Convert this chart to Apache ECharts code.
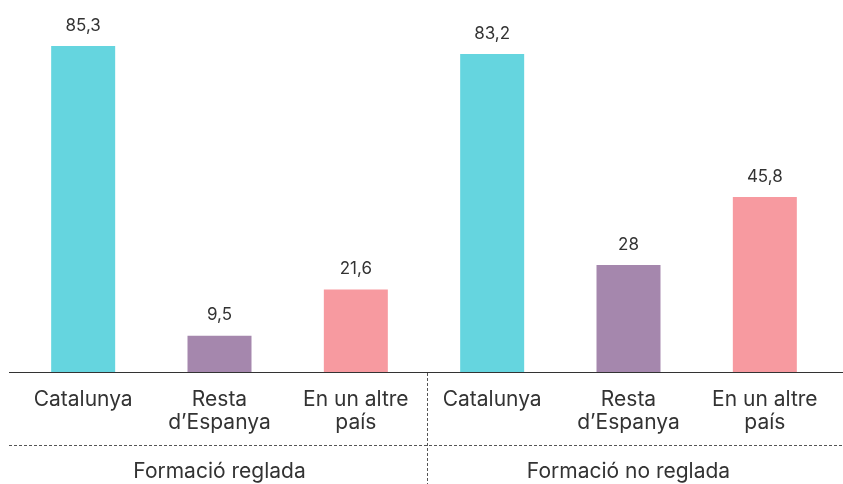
<!DOCTYPE html>
<html>
<head>
<meta charset="utf-8">
<script src="https://cdn.jsdelivr.net/npm/echarts@6/dist/echarts.min.js"></script>
<style>
  html, body { margin: 0; padding: 0; background: #fff; }
  #chart { width: 843px; height: 484px; }
</style>
</head>
<body>
<div id="chart"></div>
<script>
// categories (two groups of three)
const categories = ['Catalunya', 'Resta\nd\u2019Espanya', 'En un altre\npaís', 'Catalunya', 'Resta\nd\u2019Espanya', 'En un altre\npaís']
const groups = ['Formació reglada', 'Formació no reglada']
const values = [85.3, 9.5, 21.6, 83.2, 28, 45.8]
const colors = ['#65d5df', '#a587ad', '#f79aa0', '#65d5df', '#a587ad', '#f79aa0']

const textColor = '#333'
const font = 'Inter'

const myChart = echarts.init(document.getElementById('chart'))

const option = {
  backgroundColor: '#fff',
  animation: false,
  grid: {
    left: 15,
    right: 10,
    top: 28,
    bottom: 112
  },
  xAxis: [
    {
      type: 'category',
      data: categories,
      axisLine: { show: false },
      axisTick: { show: false },
      axisLabel: {
        color: textColor,
        fontFamily: font,
        fontSize: 21,
        lineHeight: 23,
        margin: 16,
        interval: 0
      }
    },
    {
      type: 'category',
      data: groups,
      position: 'bottom',
      offset: 89,
      axisLine: { show: false },
      axisTick: { show: false },
      axisLabel: {
        color: textColor,
        fontFamily: font,
        fontSize: 21,
        margin: 0,
        interval: 0
      }
    }
  ],
  yAxis: {
    type: 'value',
    min: 0,
    max: 90,
    show: false
  },
  series: [
    {
      type: 'bar',
      barWidth: 64,
      data: values.map((v, i) => ({ value: v, itemStyle: { color: colors[i] } })),
      label: {
        show: true,
        position: 'top',
        distance: 12,
        color: textColor,
        fontFamily: font,
        fontSize: 17,
        formatter: p => String(p.value).replace('.', ',')
      }
    }
  ],
  graphic: [
    // base line
    { type: 'line', shape: { x1: 9, y1: 372.5, x2: 843, y2: 372.5 }, style: { stroke: '#333', lineWidth: 1.2 } },
    // dashed separators
    { type: 'line', shape: { x1: 9, y1: 445.5, x2: 843, y2: 445.5 }, style: { stroke: '#555', lineWidth: 1, lineDash: [3, 2] } },
    { type: 'line', shape: { x1: 427.5, y1: 373, x2: 427.5, y2: 484 }, style: { stroke: '#555', lineWidth: 1, lineDash: [3, 2] } }
  ]
}

myChart.setOption(option)
</script>
</body>
</html>
